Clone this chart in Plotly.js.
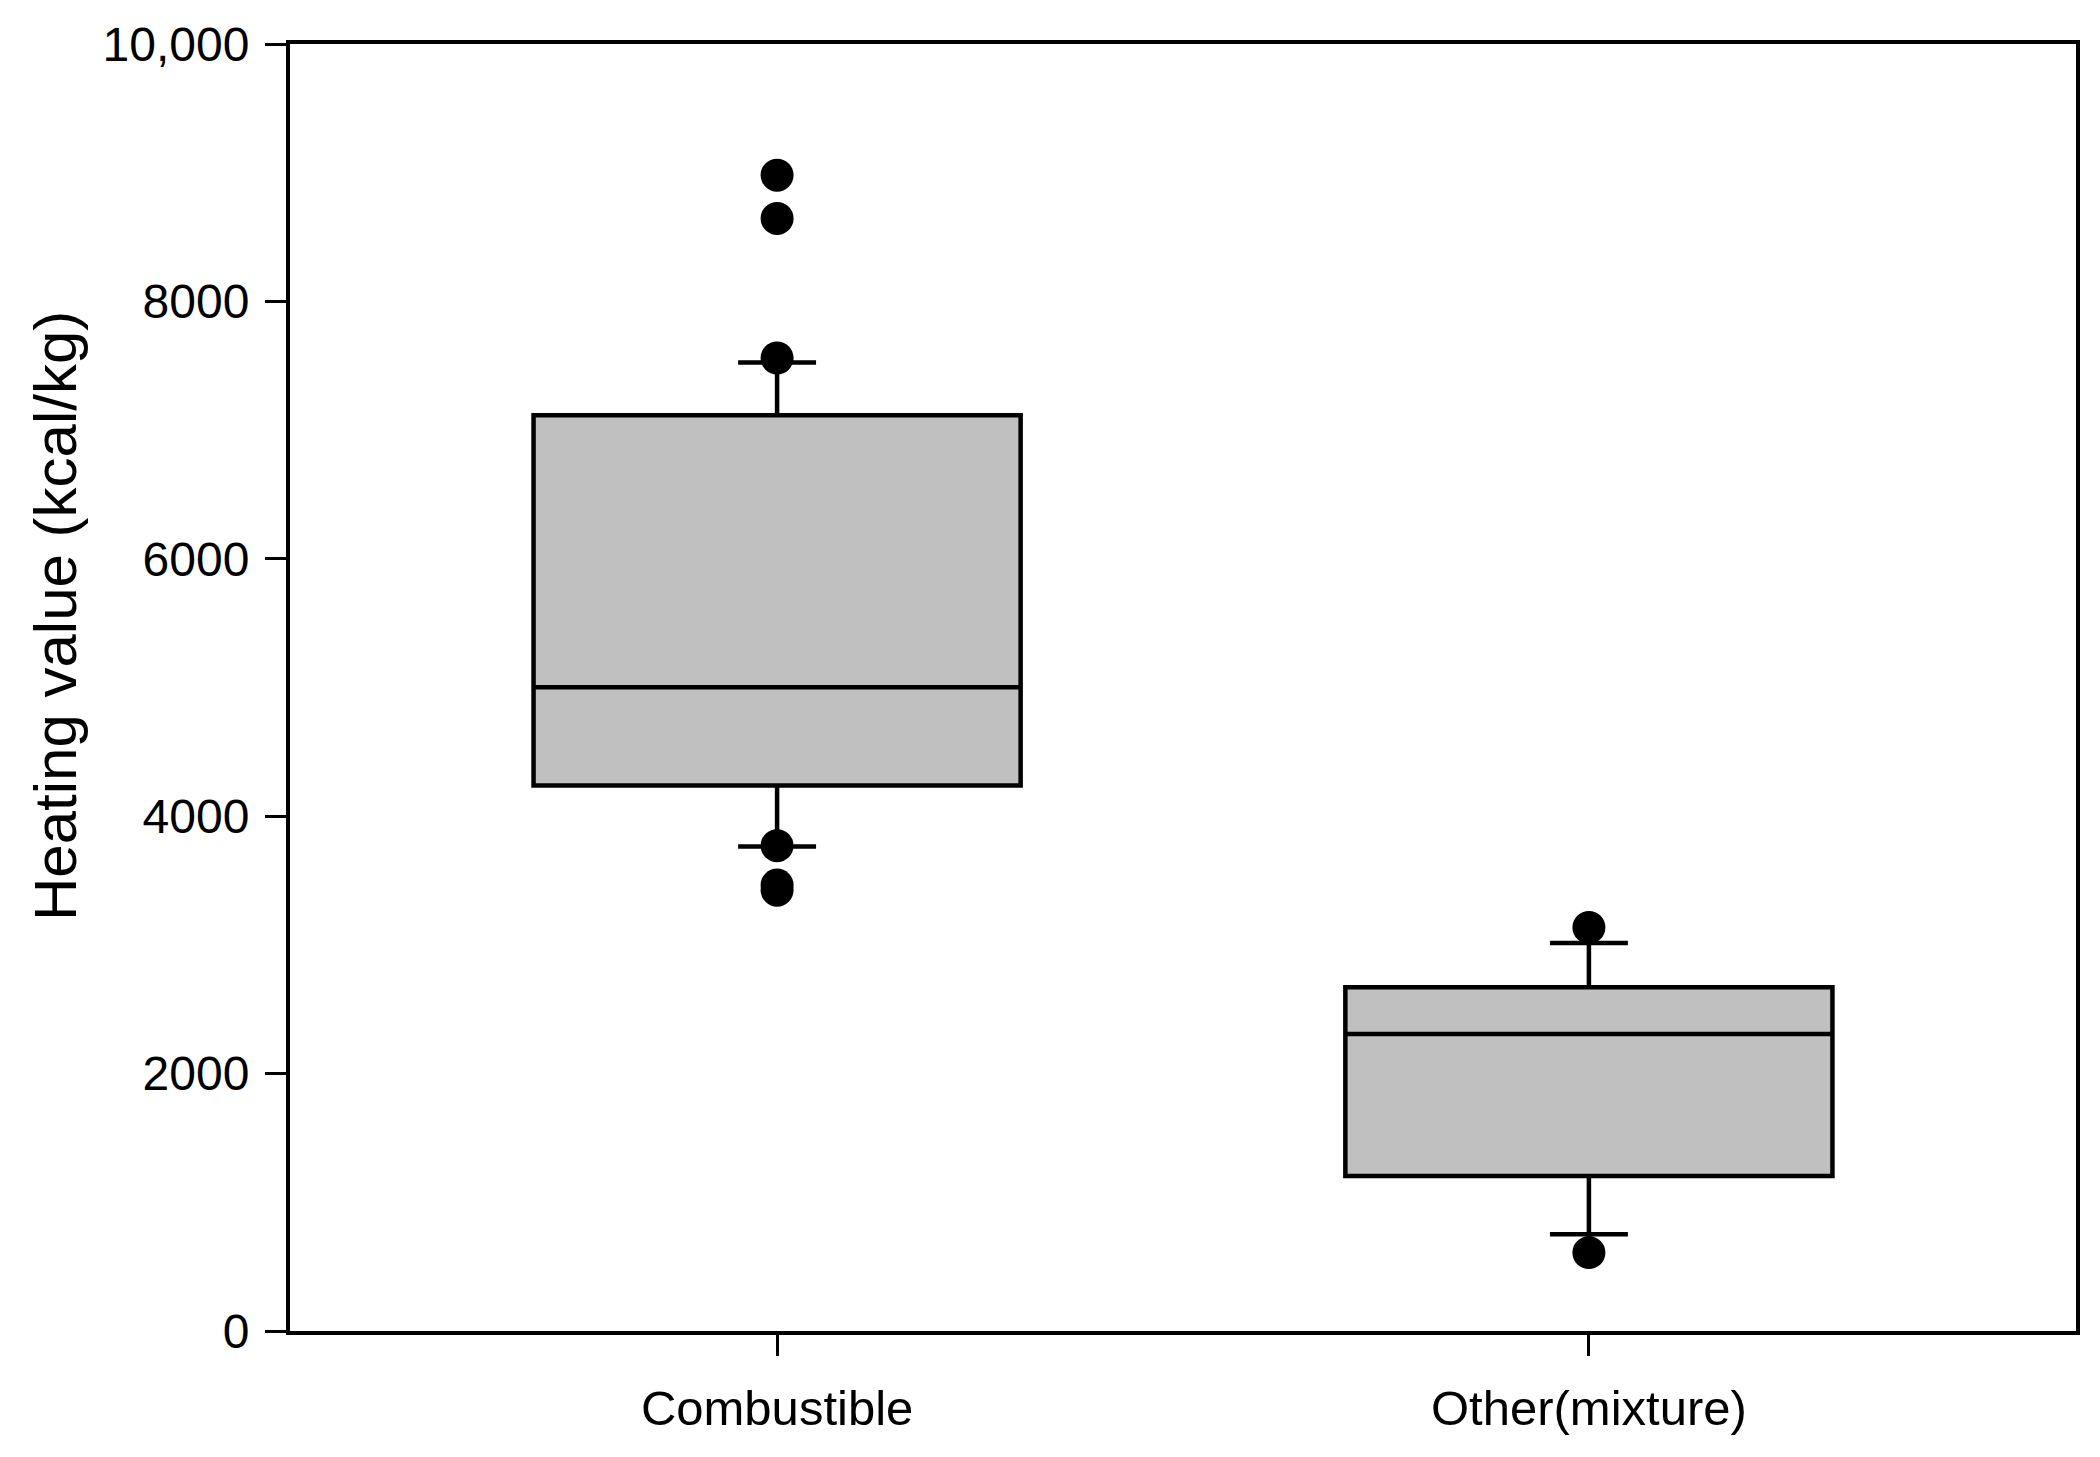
<!DOCTYPE html>
<html>
<head>
<meta charset="utf-8">
<script src="https://cdn.plot.ly/plotly-3.0.1.min.js"></script>
<style>html,body{margin:0;padding:0;background:#fff;}#chart{width:2100px;height:1457px;}</style>
</head>
<body>
<div id="chart"></div>
<script>
// Categories and box statistics (kcal/kg)
const categories = ['Combustible', 'Other(mixture)'];
const q1Values = [4238, 1205];
const medianValues = [5002, 2307];
const q3Values = [7115, 2670];
const lowerWhisker = [3764, 752];
const upperWhisker = [7525, 3014];

// Outliers
const outlierCategories = ['Combustible', 'Combustible', 'Combustible', 'Combustible', 'Combustible', 'Combustible', 'Other(mixture)', 'Other(mixture)'];
const outlierValues = [8981, 8645, 7560, 3771, 3465, 3425, 3136, 609];

// Y tick labels
const yTickValues = [0, 2000, 4000, 6000, 8000, 10000];
const yTickLabels = ['0', '2000', '4000', '6000', '8000', '10,000'];

const FONT = 'Liberation Sans, Arial, sans-serif';

const traces = [
  {
    type: 'box',
    x: categories,
    q1: q1Values,
    median: medianValues,
    q3: q3Values,
    lowerfence: lowerWhisker,
    upperfence: upperWhisker,
    boxpoints: false,
    width: 0.6,
    whiskerwidth: 0.16,
    fillcolor: '#c0c0c0',
    line: {color: '#000000', width: 4.5},
    hoverinfo: 'skip',
    showlegend: false
  },
  {
    type: 'scatter',
    mode: 'markers',
    x: outlierCategories,
    y: outlierValues,
    marker: {color: '#000000', size: 33, line: {width: 0}},
    hoverinfo: 'skip',
    showlegend: false
  }
];

const layout = {
  width: 2100,
  height: 1457,
  margin: {l: 290, r: 24, t: 44, b: 126, pad: 0},
  paper_bgcolor: '#ffffff',
  plot_bgcolor: '#ffffff',
  font: {family: FONT, color: '#000000'},
  xaxis: {
    type: 'category',
    range: [-0.6, 1.6],
    showgrid: false,
    zeroline: false,
    showline: true,
    linecolor: '#000000',
    linewidth: 4,
    mirror: true,
    ticks: 'outside',
    ticklen: 21,
    tickwidth: 3,
    tickcolor: '#000000',
    tickfont: {family: FONT, size: 49, color: '#000000'},
    ticklabelstandoff: 10,
    fixedrange: true
  },
  yaxis: {
    range: [0, 10000],
    tickvals: yTickValues,
    ticktext: yTickLabels,
    showgrid: false,
    zeroline: false,
    showline: true,
    linecolor: '#000000',
    linewidth: 4,
    mirror: true,
    ticks: 'outside',
    ticklen: 21,
    tickwidth: 3,
    tickcolor: '#000000',
    tickfont: {family: FONT, size: 48, color: '#000000'},
    ticklabelstandoff: 6,
    fixedrange: true
  },
  annotations: [
    {
      text: 'Heating value (kcal/kg)',
      xref: 'paper', yref: 'paper',
      x: -0.131, y: 0.5556,
      xanchor: 'center', yanchor: 'middle',
      textangle: -90,
      showarrow: false,
      font: {family: FONT, size: 60, color: '#000000'}
    }
  ]
};

Plotly.newPlot('chart', traces, layout, {displayModeBar: false, staticPlot: true});
</script>
</body>
</html>
